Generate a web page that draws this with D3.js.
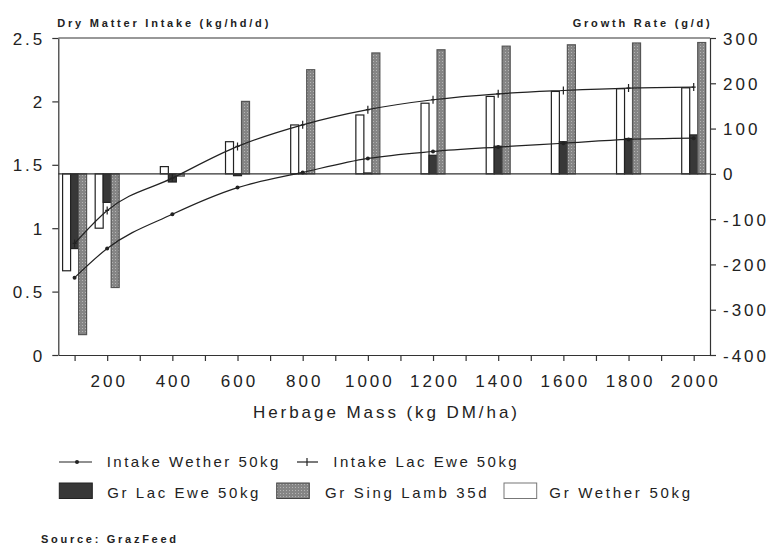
<!DOCTYPE html>
<html>
<head>
<meta charset="utf-8">
<script src="https://cdn.jsdelivr.net/npm/d3@7.9.0/dist/d3.min.js"></script>
<style>
  body { margin: 0; background: #fff; }
  svg { display: block; font-family: "Liberation Sans", Arial, sans-serif; }
  .tick text { font-size: 17px; letter-spacing: 3px; fill: #222; }
  .domain, .tick line { stroke: #333; stroke-width: 1.2; }
</style>
</head>
<body>
<svg id="chart" width="781" height="545"></svg>
<script>
// --- Data ---
const herbage = [100, 200, 400, 600, 800, 1000, 1200, 1400, 1600, 1800, 2000];

// intake, kg/hd/d (left axis)
const intakeWether = [0.61, 0.84, 1.11, 1.32, 1.44, 1.55, 1.605, 1.64, 1.67, 1.70, 1.71];
const intakeLacEwe = [0.88, 1.14, 1.395, 1.645, 1.815, 1.935, 2.013, 2.06, 2.086, 2.105, 2.113];

// growth rate, g/d (right axis)
const grWether   = [-214, -120, 16, 71, 108, 130, 156, 171, 182, 188, 190];
const grLacEwe   = [-165, -63, -18, -4, 1, 2, 41, 61, 71, 78, 86];
const grSingLamb = [-355, -251, -5, 160, 230, 267, 274, 282, 285, 289, 290];

const leftTicks  = [0, 0.5, 1, 1.5, 2, 2.5];
const rightTicks = [300, 200, 100, 0, -100, -200, -300, -400];
const xTicks     = d3.range(100, 2001, 100);

const svg = d3.select('#chart');

// stippled grey for the lamb bars
const pat = svg.append('defs').append('pattern')
  .attr('id', 'stipple').attr('patternUnits', 'userSpaceOnUse')
  .attr('width', 3).attr('height', 3);
pat.append('rect').attr('width', 3).attr('height', 3).attr('fill', '#858585');
pat.append('rect').attr('x', 1).attr('y', 1).attr('width', 1).attr('height', 1).attr('fill', '#b4b4b4');

const barSeries = [
  { key: 'wether', values: grWether,   fill: '#ffffff',       stroke: '#222' },
  { key: 'lacEwe', values: grLacEwe,   fill: '#383838',       stroke: '#222' },
  { key: 'lamb',   values: grSingLamb, fill: 'url(#stipple)', stroke: '#555' }
];

const plot = { left: 58.3, right: 710, top: 38, bottom: 355 };

// --- Scales ---
const x = d3.scaleLinear().domain([50, 2050]).range([plot.left, plot.right]);
const yL = d3.scaleLinear().domain([0, 2.5]).range([plot.bottom, plot.top]);
const yR = d3.scaleLinear().domain([-400, 300]).range([plot.bottom, plot.top]);
const offset = d3.scaleBand().domain(barSeries.map(s => s.key)).range([-12, 12]);

// --- Bars (growth) ---
barSeries.forEach(s => {
  svg.append('g')
    .selectAll('rect')
    .data(herbage.map((h, i) => ({ h, v: s.values[i] })))
    .join('rect')
      .attr('x', d => x(d.h) + offset(s.key))
      .attr('width', offset.bandwidth())
      .attr('y', d => Math.min(yR(d.v), yR(0)))
      .attr('height', d => Math.abs(yR(d.v) - yR(0)))
      .attr('fill', s.fill)
      .attr('stroke', s.stroke)
      .attr('stroke-width', 1.2);
});

// zero growth line and top frame
svg.append('line')
  .attr('x1', plot.left).attr('x2', plot.right)
  .attr('y1', yR(0)).attr('y2', yR(0))
  .attr('stroke', '#333').attr('stroke-width', 1.2);
svg.append('line')
  .attr('x1', plot.left).attr('x2', plot.right)
  .attr('y1', plot.top).attr('y2', plot.top)
  .attr('stroke', '#333').attr('stroke-width', 1.2);

// --- Intake lines ---
const line = d3.line()
  .x(d => x(d.h))
  .y(d => yL(d.v))
  .curve(d3.curveMonotoneX);

const wetherPts = herbage.map((h, i) => ({ h, v: intakeWether[i] }));
const lacPts = herbage.map((h, i) => ({ h, v: intakeLacEwe[i] }));

svg.append('path').datum(wetherPts)
  .attr('d', line).attr('fill', 'none')
  .attr('stroke', '#222').attr('stroke-width', 1.2);
svg.append('path').datum(lacPts)
  .attr('d', line).attr('fill', 'none')
  .attr('stroke', '#222').attr('stroke-width', 1.2);

svg.append('g').selectAll('circle')
  .data(wetherPts)
  .join('circle')
    .attr('cx', d => x(d.h)).attr('cy', d => yL(d.v))
    .attr('r', 2).attr('fill', '#222');

svg.append('g').selectAll('path')
  .data(lacPts)
  .join('path')
    .attr('d', d => `M${x(d.h)},${yL(d.v) - 4}V${yL(d.v) + 4}M${x(d.h) - 2},${yL(d.v)}H${x(d.h) + 2}`)
    .attr('stroke', '#222').attr('stroke-width', 1.2);

// --- Axes ---
svg.append('g')
  .attr('transform', `translate(${plot.left},0)`)
  .call(d3.axisLeft(yL).tickValues(leftTicks).tickFormat(d => String(d))
    .tickSize(6).tickSizeOuter(0).tickPadding(7))
  .selectAll('text').attr('dy', '0.36em');

svg.append('g')
  .attr('transform', `translate(${plot.right},0)`)
  .call(d3.axisRight(yR).tickValues(rightTicks).tickFormat(d => String(d))
    .tickSize(6).tickSizeOuter(0).tickPadding(7))
  .selectAll('text').attr('dy', '0.36em');

const xAxis = svg.append('g')
  .attr('transform', `translate(0,${plot.bottom})`)
  .call(d3.axisBottom(x).tickValues(xTicks)
    .tickFormat(d => (d % 200 === 0 ? String(d) : ''))
    .tickSize(6).tickSizeOuter(0));
xAxis.selectAll('text').attr('y', 32).attr('dy', 0).attr('dx', '1.5px');

// --- Titles ---
svg.append('text')
  .attr('x', 57.3).attr('y', 27)
  .attr('font-size', 11).attr('font-weight', 'bold').attr('fill', '#222')
  .attr('textLength', 211).attr('lengthAdjust', 'spacing')
  .text('Dry Matter Intake (kg/hd/d)');

svg.append('text')
  .attr('x', 572.7).attr('y', 27)
  .attr('font-size', 11).attr('font-weight', 'bold').attr('fill', '#222')
  .attr('textLength', 137).attr('lengthAdjust', 'spacing')
  .text('Growth Rate (g/d)');

svg.append('text')
  .attr('x', 253).attr('y', 418)
  .attr('font-size', 17).attr('fill', '#222')
  .attr('textLength', 264).attr('lengthAdjust', 'spacing')
  .text('Herbage Mass (kg DM/ha)');

// --- Legend ---
const legend = svg.append('g').attr('fill', '#222');
const legText = (tx, ty, w, label) => legend.append('text')
  .attr('x', tx).attr('y', ty)
  .attr('font-size', 15)
  .attr('textLength', w).attr('lengthAdjust', 'spacing')
  .text(label);

// row 1: intake lines
legend.append('line').attr('x1', 59).attr('x2', 92).attr('y1', 462).attr('y2', 462)
  .attr('stroke', '#222').attr('stroke-width', 1.2);
legend.append('circle').attr('cx', 77).attr('cy', 462).attr('r', 2);
legText(106.7, 467, 171.6, 'Intake Wether 50kg');

legend.append('line').attr('x1', 297).attr('x2', 318).attr('y1', 462).attr('y2', 462)
  .attr('stroke', '#222').attr('stroke-width', 1.2);
legend.append('line').attr('x1', 307).attr('x2', 307).attr('y1', 458).attr('y2', 466)
  .attr('stroke', '#222').attr('stroke-width', 1.2);
legText(333.3, 467, 183.4, 'Intake Lac Ewe 50kg');

// row 2: growth bars
legend.append('rect').attr('x', 59.3).attr('y', 483).attr('width', 33).attr('height', 15.5)
  .attr('fill', '#383838').attr('stroke', '#222');
legText(107.3, 498, 151, 'Gr Lac Ewe 50kg');

legend.append('rect').attr('x', 276.7).attr('y', 483).attr('width', 32.6).attr('height', 15.5)
  .attr('fill', 'url(#stipple)').attr('stroke', '#444');
legText(325, 498, 161.7, 'Gr Sing Lamb 35d');

legend.append('rect').attr('x', 504).attr('y', 483).attr('width', 32.7).attr('height', 15.5)
  .attr('fill', '#fff').attr('stroke', '#777');
legText(549.3, 498, 140.7, 'Gr Wether 50kg');

svg.append('text')
  .attr('x', 41).attr('y', 543)
  .attr('font-size', 11).attr('font-weight', 'bold').attr('fill', '#222')
  .attr('textLength', 135).attr('lengthAdjust', 'spacing')
  .text('Source: GrazFeed');
</script>
</body>
</html>
